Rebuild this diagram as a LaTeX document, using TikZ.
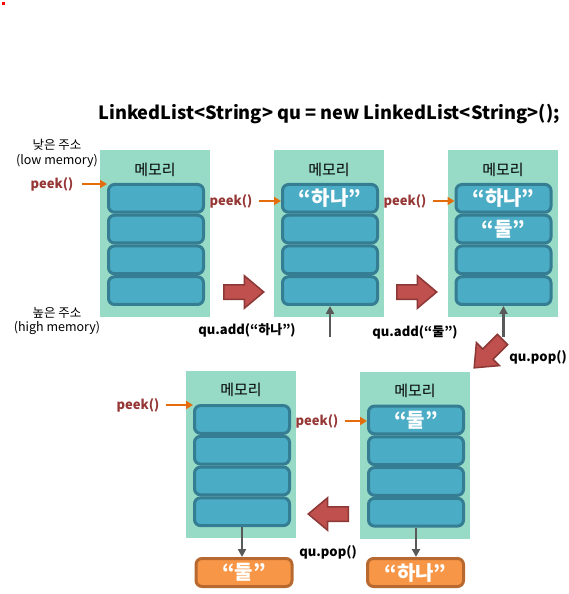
\documentclass[tikz,border=0pt]{standalone}
\usepackage{fontspec}
\setmainfont{Noto Sans CJK KR}
\usepackage{tikz}
\usetikzlibrary{positioning}
\usetikzlibrary{shapes.arrows}
\usetikzlibrary{arrows.meta}

\definecolor{memgreen}{RGB}{151,219,198}
\definecolor{cellblue}{RGB}{75,172,198}
\definecolor{celledge}{RGB}{53,125,146}
\definecolor{peekred}{RGB}{149,55,53}
\definecolor{peekorange}{RGB}{228,108,10}
\definecolor{arrowred}{RGB}{192,80,77}
\definecolor{arrowedge}{RGB}{140,56,54}
\definecolor{boxorange}{RGB}{247,150,70}
\definecolor{boxedge}{RGB}{183,105,47}
\definecolor{pushgray}{RGB}{89,89,89}

\tikzset{
  memory/.style={fill=memgreen,minimum width=110pt,minimum height=167pt,inner sep=0pt},
  memtitle/.style={font=\fontsize{15}{15}\selectfont,inner sep=0pt},
  cell/.style={draw=celledge,fill=cellblue,line width=3pt,rounded corners=6pt,
    minimum width=95pt,minimum height=27.75pt,inner sep=0pt},
  celltext/.style={text=white,font=\fontsize{20}{20}\bfseries\selectfont,inner sep=0pt},
  outbox/.style={draw=boxedge,fill=boxorange,line width=3pt,rounded corners=6pt,
    minimum width=96pt,minimum height=28pt,inner sep=0pt,
    text=white,font=\fontsize{20}{20}\bfseries\selectfont},
  peek/.style={text=peekred,font=\fontsize{13}{13}\bfseries\selectfont,inner sep=0pt},
  peekarrow/.style={draw=peekorange,line width=2.5pt,-{Triangle[length=7pt,width=8pt]}},
  grayarrow/.style={draw=pushgray,line width=2.8pt,-{Triangle[length=8pt,width=8pt]}},
  op/.style={font=\fontsize{13}{13}\bfseries\selectfont,inner sep=0pt},
  addr/.style={font=\fontsize{12.5}{12.5}\selectfont,inner sep=0pt},
  bigarrow/.style={single arrow,draw=arrowedge,fill=arrowred,line width=1.5pt,
    minimum height=40pt,single arrow head extend=9pt,
    single arrow tip angle=80,inner xsep=0pt,inner ysep=6.5pt,anchor=tail},
  title/.style={font=\fontsize{18.2}{18.2}\bfseries\selectfont,inner sep=0pt}
}

\begin{document}
\begin{tikzpicture}[x=1pt,y=-1pt]
\useasboundingbox (0,0) rectangle (569,594);
\fill[red] (2,2) rectangle (4.5,5);

\node[title,anchor=base] (code) at (329,119) {LinkedList<String> qu = new LinkedList<String>();};

% address labels
\node[addr] (low) at (57,145) {낮은 주소};
\node[addr] (lowen) at (57,161) {(low memory)};
\node[addr] (high) at (57,313) {높은 주소};
\node[addr] (highen) at (57,328) {(high memory)};

% memory 1 : empty
\node[memory] (m1) at (155,233.5) {};
\node[memtitle] (t1) at (155,170) {메모리};
\foreach \i in {1,...,4}
  \node[cell] (p1c\i) at (156,{167.6+\i*30.75}) {};
\node[peek] (pk1) at (52,184) {peek()};
\draw[peekarrow] ([xshift=8pt]pk1.east) -- (pk1.east -| p1c1.west);

% memory 2 : add "하나"
\node[memory] (m2) at (329,233.5) {};
\node[memtitle] (t2) at (329,170) {메모리};
\foreach \i in {1,...,4}
  \node[cell] (p2c\i) at (330,{167.6+\i*30.75}) {};
\node[celltext] (s21) at (p2c1) {“하나”};
\node[peek] (pk2) at (231,201) {peek()};
\draw[peekarrow] ([xshift=6pt]pk2.east) -- (pk2.east -| p2c1.west);
\coordinate (in2) at (330,337);
\draw[grayarrow] (in2) -- (in2 |- p2c4.south);
\node[op] (add1) at (247,330) {qu.add(“하나”)};

% memory 3 : add "둘"
\node[memory] (m3) at (503,233.5) {};
\node[memtitle] (t3) at (503,170) {메모리};
\foreach \i in {1,...,4}
  \node[cell] (p3c\i) at (503.5,{167.6+\i*30.75}) {};
\node[celltext] (s31) at (p3c1) {“하나”};
\node[celltext] (s32) at (p3c2) {“둘”};
\node[peek] (pk3) at (405,201) {peek()};
\draw[peekarrow] ([xshift=6pt]pk3.east) -- (pk3.east -| p3c1.west);
\coordinate (in3) at (503.5,337);
\draw[grayarrow] (in3) -- (in3 |- p3c4.south);
\node[op] (add2) at (415,332) {qu.add(“둘”)};

% memory 5 : pop "하나"
\node[memory] (m5) at (415,455) {};
\node[memtitle] (t5) at (415,391) {메모리};
\foreach \i in {1,...,4}
  \node[cell] (p5c\i) at (416,{389.2+\i*30.75}) {};
\node[celltext] (s51) at (p5c1) {“둘”};
\node[peek] (pk5) at (317,421) {peek()};
\draw[peekarrow] ([xshift=6pt]pk5.east) -- (pk5.east -| p5c1.west);
\node[outbox] (o5) at (415.5,572.5) {“하나”};
\draw[grayarrow] (p5c4.south) -- (p5c4.south |- o5.north);
\node[op] (pop1) at (538,357) {qu.pop()};

% memory 4 : pop "둘"
\node[memory] (m4) at (241,454.5) {};
\node[memtitle] (t4) at (241,390) {메모리};
\foreach \i in {1,...,4}
  \node[cell] (p4c\i) at (242,{388.7+\i*30.75}) {};
\node[peek] (pk4) at (138,405) {peek()};
\draw[peekarrow] ([xshift=6pt]pk4.east) -- (pk4.east -| p4c1.west);
\node[outbox] (o4) at (244,572.5) {“둘”};
\draw[grayarrow] (p4c4.south) -- (p4c4.south |- o4.north);
\node[op] (pop2) at (328,552) {qu.pop()};

% steps
\node[bigarrow] (go1) at (223,292) {};
\node[bigarrow] (go2) at (396,292) {};
\node[bigarrow,rotate=225] (go3) at (503,339) {};
\node[bigarrow,rotate=180] (go4) at (349,514) {};
\end{tikzpicture}
\end{document}
